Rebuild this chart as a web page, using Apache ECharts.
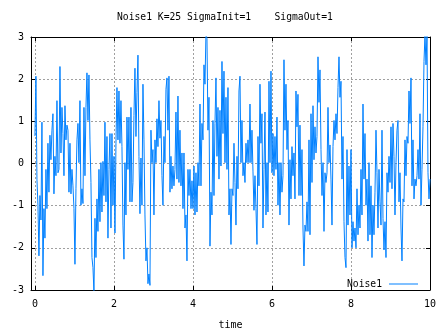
<!DOCTYPE html>
<html>
<head>
<meta charset="utf-8">
<script src="https://cdn.jsdelivr.net/npm/echarts@6/dist/echarts.min.js"></script>
<style>html,body{margin:0;padding:0;background:#fff}#c{width:447px;height:335px}</style>
</head>
<body>
<div id="c"></div>
<script>
// Sample step (time units per sample)
const dt = 1 / 39.5;
// Noise1 values in consecutive stretches
const seg1 = [0.65, 2.07, -0.37, -0.99, -2.19, -0.76, -1.34, 0.98, -2.66, -1.07, -1.77, -0.14, -1.07, 0.48, -0.68, 0.67, 0.09, 0.79, 1.18, -0.72, 0.17, -0.29, 1.49, -0.22, -0.14, 2.30, 0.25, 1.33, 0.71, -0.29, 1.37, 0.56, 0.91, 0.79, -0.68, 0.48, -0.72, -0.14, -0.53, -1.07, -2.39, -0.60, 0.56, 0.95, 0.02, 1.49, -0.99];
const seg2 = [-0.60, -0.95, 1.33, -0.29, 1.33, 2.15, 1.02, 2.10, 0.56, -0.45, -2.23, -2.47, -3.05, -1.30, -2.23, -0.84, -1.61, -0.14, -1.38, 0.02, -1.15, 0.05, -0.76, 0.98, -0.91, 0.64, -1.77, -0.14, 0.71, -1.53, 0.71, -0.99, 0.17, -1.65, 0.48, 1.80, 0.56, 1.72, 0.48, 1.49, 0.40, -1.46, -2.27, 0.02, -1.22, 1.10, -0.14, 1.10, -0.91, 1.33, -0.91];
const seg3 = [-0.45, 1.14, 2.26, 0.64, 1.68, 2.57, 0.17, -1.19, 0.13, -0.99, 1.88, 0.56, -1.22, -2.31, -2.0, -2.85, -2.62, -2.89, 0.79, 0.02, 0.33, -1.22, 0.56, 0.02, 1.06, 0.40, 1.49, 0.60, 1.02, -0.29, -0.99, 0.64, 0.02, 1.76, 2.03, 0.79, 2.07, -0.68, 0.17, -0.60, -0.06, -0.53, -0.14, 1.22, -0.37, 1.60, -0.45, 0.79, -0.53, 0.25];
const seg4 = [-1.07, 0.25, -1.53, -1.22, -2.31, -0.14, -0.76, -0.14, -1.07, -0.41, -1.07, -0.06, -1.22, -0.22, -1.15, 0.02, -0.53, 1.41, -0.53, 0.95, 0.56, 2.34, 1.88, 3.1, 2.96, 0.79, 1.57, -1.96, -0.68, -1.22, 1.02, -0.76, 0.95, 2.03, 0.17, 1.33, -0.37, 1.26, -0.06, 2.42, 0.71, 2.19, 0.02, 1.57, -0.14, 1.80, -1.22, -0.60, -1.92, -0.60];
const seg5 = [-0.76, 0.48, -0.45, -1.46, 0.17, -0.60, 1.72, 2.07, 0.02, 1.02, -0.29, 0.02, -0.45, 0.48, 0.02, 0.56, 0.02, 1.41, 0.02, 0.79, -0.18, -1.11, -0.29, -1.07, -1.92, 0.64, -0.53, 1.88, 0.48, 1.18, -1.53, -0.14, 1.22, -1.22, 0.02, -1.15, 1.95, 0.02, 2.19, -0.22, 0.71, -0.29, 0.64, -0.14, 1.10, -0.99, 0.02, -1.22, 0.02, -0.68];
const seg6 = [-0.29, 2.46, 0.79, 1.88, 0.33, 1.02, -1.46, 0.09, -0.84, 0.40, -0.29, 0.25, -0.84, 1.72, 0.87, 1.64, -0.76, 0.91, -0.76, 0.33, -1.53, -2.43, -1.46, -1.61, -0.91, -1.61, 0.56, -1.69, 1.18, -0.45, 1.37, 0.09, 0.87, 0.25, 0.64, 2.53, 1.45, 2.22, 0.33, -0.76, 0.02, -1.61, -0.22, -0.45, -0.22, 1.33, 0.02, 0.44, -0.37, -1.46];
const seg7 = [0.40, 1.02, 0.56, 1.18, 0.71, 1.80, 2.53, 1.57, 1.95, -0.37, 0.64, -1.38, -2.23, -2.47, 0.33, -1.46, -0.06, -1.22, 0.33, -2.0, -1.38, -1.84, -1.53, -2.0, -0.60, -1.69, -0.99, -1.53, -0.14, -1.22, 1.41, -0.37, 0.71, -0.99, -0.37, -1.84, 0.02, -1.69, -0.53, -2.23, -0.99, -1.69, -0.68, 0.79, -0.22, -1.53, -0.14, -0.91, -1.46, 0.79];
const seg8 = [-1.30, -2.05, -1.38, -2.23, -0.22, -0.68, 0.17, -0.45, 0.87, -0.60, 0.95, 0.17, -1.22, 0.02, 0.79, 1.02, -0.91, -0.22, -1.53, -2.31, -0.84, -0.91, 0.56, -0.29, 0.64, 0.48, 1.72, 0.95, 2.03, -0.53, 0.56, -0.84, -0.37, -0.53, -0.29, 0.33, -0.37, 1.18, -0.99, -0.14, 0.87, 2.42, 3.05, 2.34, 3.05, -0.22, -0.84, -0.37];
// Tick labels
const xTicks = [0, 2, 4, 6, 8, 10];
const yTicks = [-3, -2, -1, 0, 1, 2, 3];

const noise = [].concat(seg1, seg2, seg3, seg4, seg5, seg6, seg7, seg8);
const points = noise.map((v, i) => [i * dt, v]);

const FONT = 'DejaVu Sans Mono';
const chart = echarts.init(document.getElementById('c'), null, {renderer: 'canvas'});
const gridLine = {show: true, lineStyle: {color: '#a0a0a0', width: 1, type: [2, 2]}};
const blackLine = {show: true, onZero: false, lineStyle: {color: '#000', width: 1}};
chart.setOption({
  animation: false,
  backgroundColor: '#fff',
  title: {
    text: 'Noise1 K=25 SigmaInit=1    SigmaOut=1',
    left: 117, top: 12, padding: 0,
    textStyle: {fontFamily: FONT, fontSize: 9.7, fontWeight: 'normal', color: '#000'}
  },
  legend: {
    data: ['Noise1'], right: 29, top: 279, padding: 0, align: 'right',
    icon: 'rect', itemWidth: 29, itemHeight: 1,
    textStyle: {fontFamily: FONT, fontSize: 9.7, color: '#000', padding: [0, 2, 0, 0]}
  },
  grid: {left: 31, right: 17, top: 37, bottom: 40},
  xAxis: [{
    type: 'value', min: -0.1, max: 10, position: 'bottom',
    axisLine: blackLine,
    axisTick: {show: true, inside: true, length: 4, customValues: xTicks, lineStyle: {color: '#000'}},
    axisLabel: {customValues: xTicks, color: '#000', fontFamily: FONT, fontSize: 10, margin: 9},
    splitLine: gridLine,
    name: 'time', nameLocation: 'middle', nameGap: 35,
    nameTextStyle: {fontFamily: FONT, fontSize: 10, color: '#000', verticalAlign: 'middle'}
  }, {
    type: 'value', min: -0.1, max: 10, position: 'top',
    axisLine: blackLine,
    axisTick: {show: true, inside: true, length: 4, customValues: xTicks, lineStyle: {color: '#000'}},
    axisLabel: {show: false}, splitLine: {show: false}
  }],
  yAxis: [{
    type: 'value', min: -3, max: 3, interval: 1, position: 'left',
    axisLine: blackLine,
    axisTick: {show: true, inside: true, length: 4, lineStyle: {color: '#000'}},
    axisLabel: {color: '#000', fontFamily: FONT, fontSize: 10, margin: 7},
    splitLine: gridLine
  }, {
    type: 'value', min: -3, max: 3, interval: 1, position: 'right',
    axisLine: blackLine,
    axisTick: {show: true, inside: true, length: 4, lineStyle: {color: '#000'}},
    axisLabel: {show: false}, splitLine: {show: false}
  }],
  series: [{
    name: 'Noise1', type: 'line', data: points, xAxisIndex: 0, yAxisIndex: 0,
    symbol: 'none', showSymbol: false, clip: true,
    lineStyle: {color: '#0080ff', width: 1}, itemStyle: {color: '#0080ff'}
  }]
});
</script>
</body>
</html>
